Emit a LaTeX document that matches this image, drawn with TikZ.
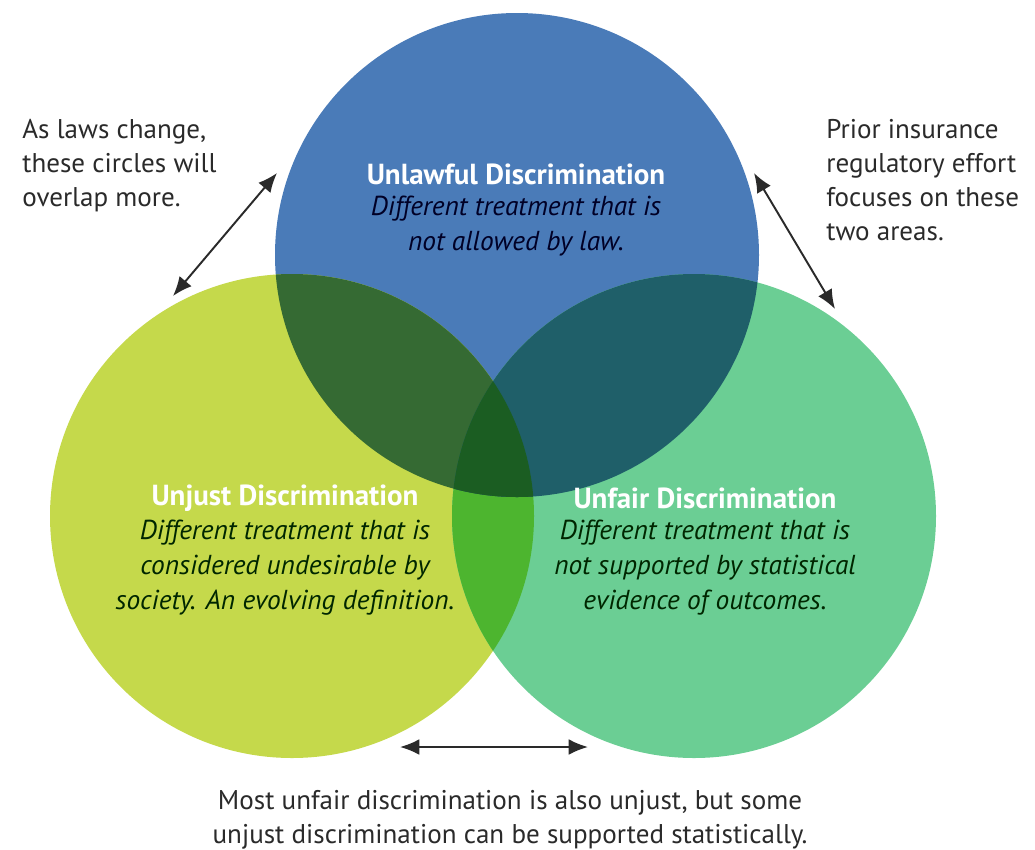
\documentclass[tikz,border=0pt]{standalone}
\usepackage{fontspec}
\setmainfont{PT Sans}
\usetikzlibrary{arrows.meta}

\definecolor{lawblue}{HTML}{4A7BB8}
\definecolor{justgreen}{HTML}{C5D94B}
\definecolor{fairgreen}{HTML}{6BCE94}
\definecolor{lawjust}{HTML}{356A33}
\definecolor{lawfair}{HTML}{1F5F69}
\definecolor{justfair}{HTML}{4DB52F}
\definecolor{allthree}{HTML}{1B5D22}
\definecolor{notegray}{HTML}{2A2A2A}

\begin{document}
\begin{tikzpicture}[x=0.02cm,y=-0.02cm]
\tikzstyle note=[font=\fontsize{15.4}{19.4}\selectfont, text=notegray, inner sep=0]
\tikzstyle heading=[font=\fontsize{16.5}{20}\selectfont\bfseries, text=white, inner sep=0]
\tikzstyle blurb=[font=\fontsize{15.6}{19.9}\selectfont\itshape, align=center, inner sep=0]
\tikzstyle twoway=[{Latex[length=11pt,width=9pt]}-{Latex[length=11pt,width=9pt]}, line width=1.1pt, notegray]

\useasboundingbox (0,0) rectangle (1035,849);

% circle centres
\coordinate (lawc) at (517,255);
\coordinate (justc) at (292,516);
\coordinate (fairc) at (694,516);
\def\rad{242}

\fill[lawblue] (lawc) circle (\rad);
\fill[justgreen] (justc) circle (\rad);
\fill[fairgreen] (fairc) circle (\rad);

% overlaps
\begin{scope}
\clip (justc) circle (\rad);
\fill[justfair] (fairc) circle (\rad);
\end{scope}
\begin{scope}
\clip (lawc) circle (\rad);
\fill[lawjust] (justc) circle (\rad);
\fill[lawfair] (fairc) circle (\rad);
\end{scope}
\begin{scope}
\clip (lawc) circle (\rad);
\clip (justc) circle (\rad);
\fill[allthree] (fairc) circle (\rad);
\end{scope}

% circle texts
\node[heading] (lawhead) at (516,174) {Unlawful Discrimination};
\node[blurb, text=black!85!blue, anchor=north] (lawtext) at (516,196)
  {Different treatment that is\\not allowed by law.};
\node[heading] (justhead) at (285,498) {Unjust Discrimination};
\node[blurb, text=black!85!green, anchor=north] (justtext) at (285,520)
  {Different treatment that is\\considered undesirable by\\society. An evolving definition.};
\node[heading] (fairhead) at (705,498) {Unfair Discrimination};
\node[blurb, text=black!85!green, anchor=north] (fairtext) at (705,520)
  {Different treatment that is\\not supported by statistical\\evidence of outcomes.};

% side notes
\node[note, align=left, anchor=north west] (overlap) at (22,119)
  {As laws change,\\these circles will\\overlap more.};
\node[note, align=left, anchor=north west] (effort) at (826,119)
  {Prior insurance\\regulatory effort\\focuses on these\\two areas.};
\node[note, align=center, anchor=north] (bottom) at (510,790)
  {Most unfair discrimination is also unjust, but some\\unjust discrimination can be supported statistically.};

% arrows
\coordinate (ltop) at (277,173);
\coordinate (lbot) at (173,296);
\coordinate (rtop) at (754,173);
\coordinate (rbot) at (835,309);
\coordinate (bleft) at (400,747);
\coordinate (bright) at (588,747);
\draw[twoway] (ltop) -- (lbot);
\draw[twoway] (rtop) -- (rbot);
\draw[twoway] (bleft) -- (bright);
\end{tikzpicture}
\end{document}
